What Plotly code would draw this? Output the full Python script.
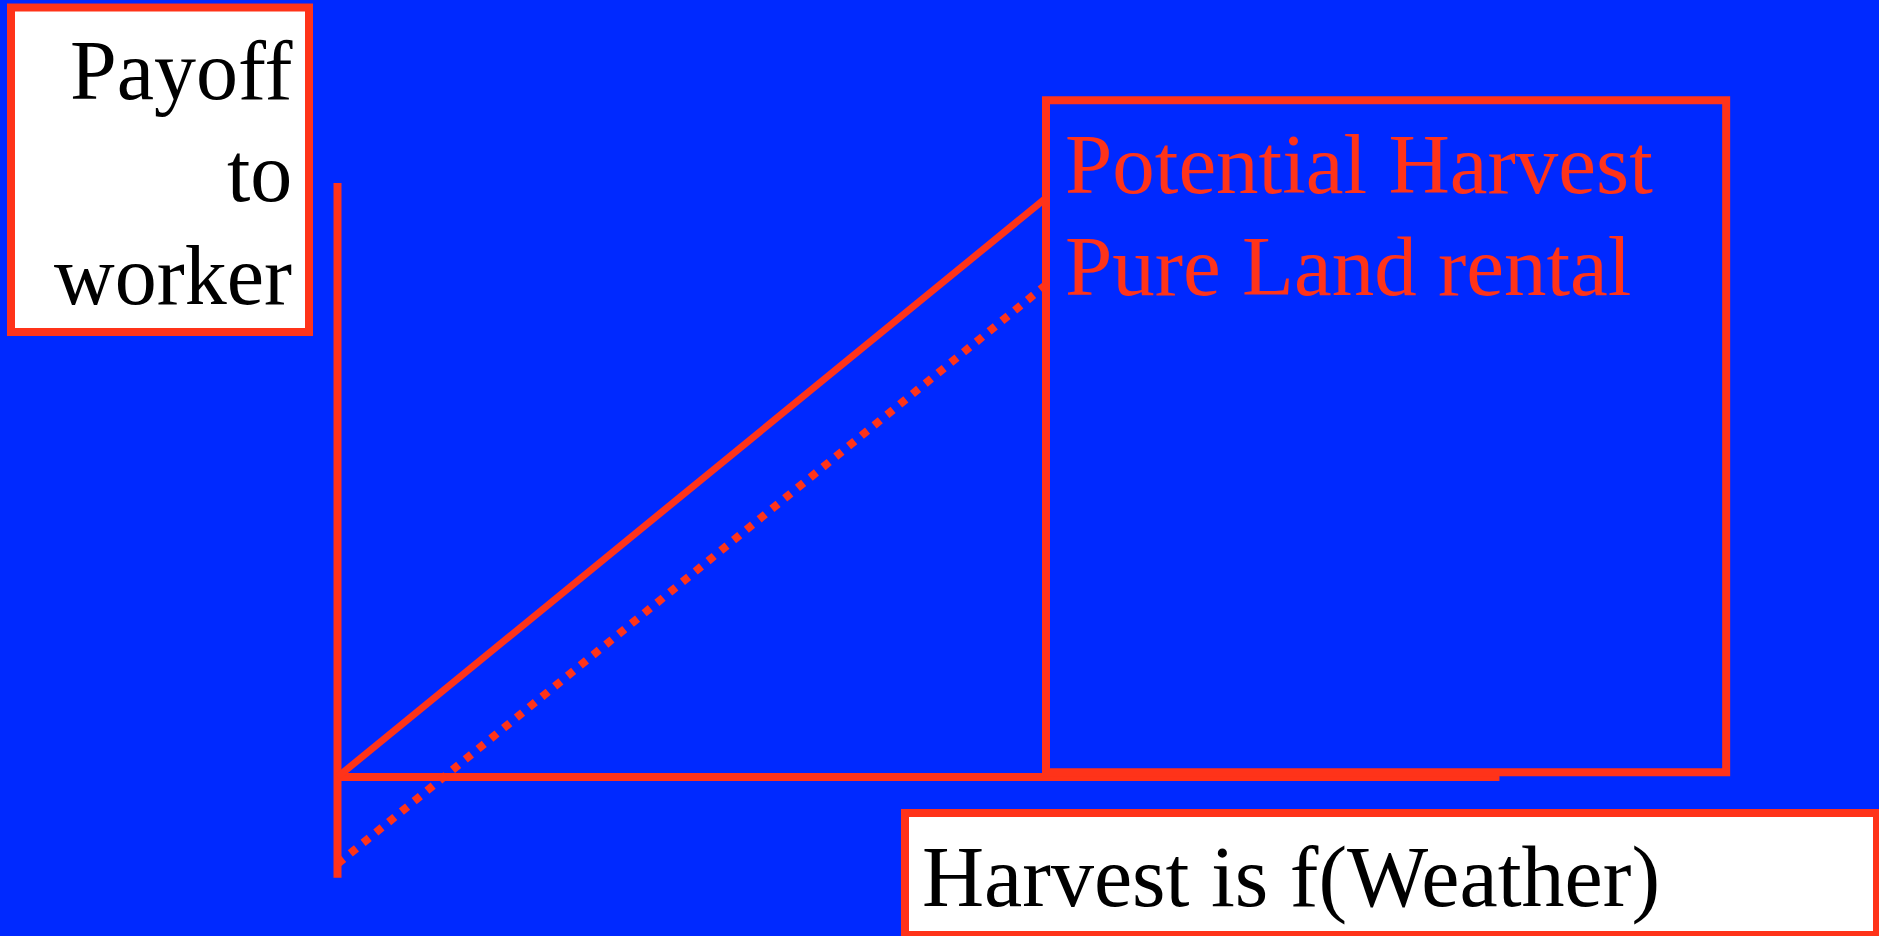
import plotly.graph_objects as go

# --- data (harvest model, arbitrary units) ---
weather = [0.0, 1.0]
potential_harvest = [0.0, 1.0]
pure_land_rental = [-0.15, 0.85]
payoff_axis = [-0.174, 1.026]      # extent of the vertical (payoff) axis
weather_axis = [0.0, 1.64]         # extent of the horizontal (weather) axis
legend_box_x = [1.0, 1.96]
legend_box_y = [0.008, 1.169]

labels_payoff = ["Payoff", "to", "worker"]
labels_series = ["Potential Harvest", "Pure Land rental"]
label_weather = "Harvest is f(Weather)"

# --- styling ---
W, H = 1879, 936
BLUE = "#0029FF"
RED = "#FF3319"
FONT = '"Liberation Serif", "Times New Roman", Times, serif'

# pixel position of the origin and size of one data unit
ORIGIN_PX = (337.5, 777.0)
UNIT_PX = (708.5, 579.0)
x_range = [-ORIGIN_PX[0] / UNIT_PX[0], (W - ORIGIN_PX[0]) / UNIT_PX[0]]
y_range = [(ORIGIN_PX[1] - H) / UNIT_PX[1], ORIGIN_PX[1] / UNIT_PX[1]]


def px(x):
    return x / W


def py(y):
    return 1 - y / H


fig = go.Figure()

# axes
fig.add_trace(go.Scatter(x=[0, 0], y=payoff_axis, mode="lines",
                         line=dict(color=RED, width=8), hoverinfo="skip"))
fig.add_trace(go.Scatter(x=weather_axis, y=[0, 0], mode="lines",
                         line=dict(color=RED, width=8), hoverinfo="skip"))

# series
fig.add_trace(go.Scatter(x=weather, y=potential_harvest, mode="lines",
                         name=labels_series[0],
                         line=dict(color=RED, width=7), hoverinfo="skip"))
fig.add_trace(go.Scatter(x=weather, y=pure_land_rental, mode="lines",
                         name=labels_series[1],
                         line=dict(color=RED, width=8, dash="8px,8.5px"),
                         hoverinfo="skip"))

shapes = [
    # legend frame
    dict(type="rect", xref="x", yref="y",
         x0=legend_box_x[0], x1=legend_box_x[1],
         y0=legend_box_y[0], y1=legend_box_y[1],
         line=dict(color=RED, width=8), fillcolor="rgba(0,0,0,0)", layer="above"),
    # payoff label box
    dict(type="rect", xref="paper", yref="paper",
         x0=px(11), x1=px(309), y0=py(332), y1=py(7.5),
         line=dict(color=RED, width=8), fillcolor="white", layer="below"),
    # weather label box
    dict(type="rect", xref="paper", yref="paper",
         x0=px(905), x1=px(1877), y0=py(935), y1=py(813),
         line=dict(color=RED, width=8), fillcolor="white", layer="below"),
]

annotations = []
# payoff label, right aligned
for text, base in zip(labels_payoff, [99, 201, 304]):
    size = 84
    annotations.append(dict(
        text=text, xref="paper", yref="paper", x=px(294), y=py(base - 0.3375 * size),
        xanchor="right", yanchor="middle", showarrow=False, align="right",
        font=dict(family=FONT, size=size, color="black")))
# series labels
for text, base in zip(labels_series, [193, 295]):
    size = 85
    annotations.append(dict(
        text=text, xref="paper", yref="paper", x=px(1063), y=py(base - 0.3375 * size),
        xanchor="left", yanchor="middle", showarrow=False, align="left",
        font=dict(family=FONT, size=size, color=RED)))
# weather label
size = 86
annotations.append(dict(
    text=label_weather, xref="paper", yref="paper", x=px(920), y=py(906 - 0.3375 * size),
    xanchor="left", yanchor="middle", showarrow=False, align="left",
    font=dict(family=FONT, size=size, color="black")))

fig.update_layout(
    width=W, height=H,
    margin=dict(l=0, r=0, t=0, b=0, pad=0),
    paper_bgcolor=BLUE, plot_bgcolor=BLUE,
    showlegend=False,
    xaxis=dict(range=x_range, visible=False, fixedrange=True),
    yaxis=dict(range=y_range, visible=False, fixedrange=True),
    shapes=shapes,
    annotations=annotations,
)

fig.write_html("out.html", config=dict(displayModeBar=False, staticPlot=True))
